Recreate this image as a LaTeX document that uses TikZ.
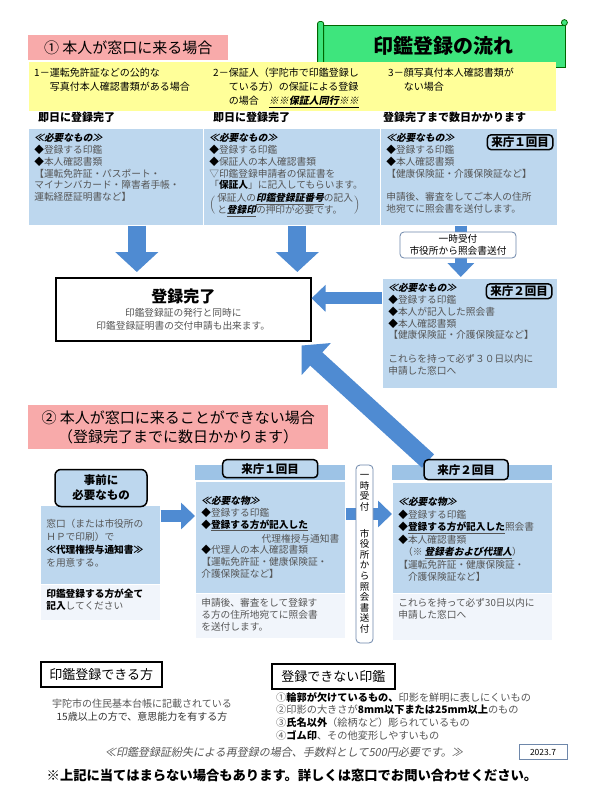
\documentclass[tikz,border=0pt]{standalone}
\usepackage{fontspec}
\setmainfont{Noto Sans CJK JP}
\newfontfamily\slnt{Noto Sans CJK JP}[FakeSlant=0.2]
\usepackage{tikz}
\usetikzlibrary{arrows.meta,positioning,calc}

\definecolor{pinkhd}{RGB}{248,170,170}
\definecolor{bandyellow}{RGB}{255,255,153}
\definecolor{boxblue}{RGB}{189,215,238}
\definecolor{stripblue}{RGB}{157,195,230}
\definecolor{paleblue}{RGB}{241,245,251}
\definecolor{titlegreen}{RGB}{62,229,125}
\definecolor{arrowblue}{RGB}{79,139,210}
\definecolor{txtgray}{RGB}{85,85,85}
\definecolor{noteline}{RGB}{110,135,170}

\newcommand{\txtcol}[3]{\parbox[t][#2][t]{#1}{#3}}
\newcommand{\dmd}{\textcolor{black}{◆}}
\newcommand{\needs}[1]{\textcolor{black}{\slnt\bfseries #1}}

\begin{document}
\begin{tikzpicture}[x=1pt,y=-1pt,font=\fontsize{9.7}{11.8}\selectfont,
  every node/.style={inner sep=0pt},
  hdr/.style={fill=pinkhd,anchor=north west,font=\fontsize{15}{19}\selectfont},
  blbox/.style={fill=boxblue,draw=white,line width=0.6pt,anchor=north west,inner xsep=6pt,inner ysep=5pt,text=txtgray},
  pale/.style={blbox,fill=paleblue},
  strip/.style={fill=stripblue,anchor=north west},
  badge/.style={draw=black,line width=1.5pt,rounded corners=4pt,fill=boxblue,font=\fontsize{11.5}{14}\selectfont\bfseries,inner xsep=4pt,inner ysep=2pt},
  tag/.style={draw=noteline,fill=white,rounded corners=4pt,line width=0.8pt},
  frame/.style={draw=black,line width=1.5pt,fill=white},
  flow/.style={arrowblue,line width=12pt,-{Triangle[width=26pt,length=14pt]}},
  bigflow/.style={arrowblue,line width=18pt,-{Triangle[width=42pt,length=20pt]}}]

\fill[white] (0,0) rectangle (592,800);
\useasboundingbox (0,0) rectangle (592,800);

\node[hdr,minimum width=200pt,minimum height=25pt] (h1) at (28,35) {① 本人が窓口に来る場合};
\node[draw=black!60!green,line width=0.8pt,fill=titlegreen,minimum width=244pt,minimum height=42pt,font=\fontsize{20}{24}\selectfont\bfseries] (ttl) at (443,46) {印鑑登録の流れ};
\draw[fill=titlegreen,draw=black!60!green,line width=0.8pt,rounded corners=2pt] ([xshift=-3pt,yshift=3pt]ttl.north west) rectangle ([xshift=3pt,yshift=-5pt]ttl.south west);
\draw[fill=titlegreen,draw=black!60!green,line width=0.8pt] ([xshift=-1pt,yshift=2pt]ttl.north east) circle (3pt);

\node[fill=bandyellow,anchor=north west,minimum width=527pt,minimum height=49pt] (band) at (29,62) {};
\node[anchor=north west,align=left,font=\fontsize{10}{14}\selectfont] (c1) at (34,68) {1－運転免許証などの公的な\\\phantom{1－}写真付本人確認書類がある場合};
\node[anchor=north west,align=left,font=\fontsize{10}{14}\selectfont] (c2) at (213,68) {2－保証人（宇陀市で印鑑登録し\\\phantom{2－}ている方）の保証による登録\\\phantom{2－}の場合　\underline{\slnt\bfseries ※※保証人同行※※}};
\node[anchor=north west,align=left,font=\fontsize{10}{14}\selectfont] (c3) at (388,68) {3－顔写真付本人確認書類が\\\phantom{3－}ない場合};

\node[anchor=north west,font=\fontsize{11}{13}\selectfont\bfseries] (s1) at (38,112) {即日に登録完了};
\node[anchor=north west,font=\fontsize{11}{13}\selectfont\bfseries] (s2) at (213,112) {即日に登録完了};
\node[anchor=north west,font=\fontsize{11}{13}\selectfont\bfseries] (s3) at (383,112) {登録完了まで数日かかります};

\node[blbox,minimum width=175pt] (b1) at (28,128) {\txtcol{163pt}{87pt}{\needs{≪必要なもの≫}\\\dmd 登録する印鑑\\\dmd 本人確認書類\\【運転免許証・パスポート・\\マイナンバカード・障害者手帳・\\運転経歴証明書など】}};
\node[blbox,minimum width=177pt] (b2) at (203,128) {\txtcol{165pt}{87pt}{\needs{≪必要なもの≫}\\\dmd 登録する印鑑\\\dmd 保証人の本人確認書類\\▽印鑑登録申請者の保証書を\\「\textcolor{black}{\bfseries 保証人}」に記入してもらいます。\\[1pt]\raisebox{-6pt}{\delimiterfactor=700 \delimitershortfall=12pt $\left(\hspace{2pt}\begin{tabular}{@{}l@{}}保証人の\underline{\textcolor{black}{\slnt\bfseries 印鑑登録証番号}}の記入\\と\underline{\textcolor{black}{\slnt\bfseries 登録印}}の押印が必要です。\end{tabular}\hspace{1pt}\right)$}}};
\node[blbox,minimum width=177pt] (b3) at (380,128) {\txtcol{165pt}{87pt}{\needs{≪必要なもの≫}\\\dmd 登録する印鑑\\\dmd 本人確認書類\\【健康保険証・介護保険証など】\\[11.8pt]申請後、審査をしてご本人の住所\\地宛てに照会書を送付します。}};
\node[blbox,minimum width=175pt] (b4) at (382,278) {\txtcol{163pt}{100pt}{\needs{≪必要なもの≫}\\\dmd 登録する印鑑\\\dmd 本人が記入した照会書\\\dmd 本人確認書類\\【健康保険証・介護保険証など】\\[11.8pt]これらを持って必ず３０日以内に\\申請した窓口へ}};
\node[frame,minimum width=255pt,minimum height=63pt,anchor=north west,align=center,font=\fontsize{9.7}{12.5}\selectfont,text=txtgray] (done) at (55,277) {{\fontsize{16}{20}\selectfont\bfseries\textcolor{black}{登録完了}}\\[2pt]印鑑登録証の発行と同時に\\印鑑登録証明書の交付申請も出来ます。};

\coordinate (p1) at ([xshift=21pt]b1.south);
\coordinate (p2) at ([xshift=5.5pt]b2.south);
\coordinate (p3) at ([xshift=-8pt]b3.south);
\coordinate (p4) at ([yshift=35pt]b4.west);
\draw[bigflow,shorten >=5pt] (p1) -- (p1 |- done.north);
\draw[bigflow,shorten >=5pt] (p2) -- (p2 |- done.north);
\draw[flow,shorten >=1pt] (p3) -- (p3 |- b4.north);
\draw[flow] (p4) -- (p4 -| done.east);

\node[tag,minimum width=116pt,minimum height=26pt,align=center] (n1) at (458,245) {一時受付\\市役所から照会書送付};
\node[badge,anchor=north east] (t1) at ([xshift=-4pt,yshift=-6pt]b3.north east) {来庁１回目};
\node[badge,anchor=north east] (t2) at ([xshift=-5pt,yshift=-5pt]b4.north east) {来庁２回目};

\node[hdr,minimum width=300pt,minimum height=44pt,align=center] (h2) at (28,405) {② 本人が窓口に来ることができない場合\\（登録完了までに数日かかります）};

\node[blbox,minimum width=120pt,font=\fontsize{9.7}{13}\selectfont] (b5) at (40,505) {\txtcol{108pt}{69pt}{\vspace*{9pt}窓口（または市役所の\\ＨＰで印刷）で\\\textcolor{black}{\bfseries ≪代理権授与通知書≫}\\を用意する。}};
\node[pale,minimum width=120pt,font=\fontsize{9.7}{12}\selectfont] (l5) at (40,584) {\txtcol{108pt}{26pt}{\textcolor{black}{\bfseries 印鑑登録する方が全て}\\\textcolor{black}{\bfseries 記入}してください}};
\node[strip,minimum width=150pt,minimum height=15pt] (hd6) at (195,465) {};
\node[blbox,minimum width=150pt] (b6) at (195,481) {\txtcol{138pt}{102pt}{\vspace*{10pt}\needs{≪必要な物≫}\\\dmd 登録する印鑑\\\dmd\underline{\textcolor{black}{\bfseries 登録する方が記入した}}\\[2pt]\hspace*{\fill}代理権授与通知書\\\dmd 代理人の本人確認書類\\【運転免許証・健康保険証・\\介護保険証など】}};
\node[pale,minimum width=150pt] (l6) at (195,593) {\txtcol{138pt}{35pt}{申請後、審査をして登録す\\る方の住所地宛てに照会書\\を送付します。}};
\node[strip,minimum width=160pt,minimum height=15pt] (hd7) at (392,465) {};
\node[blbox,minimum width=160pt,font=\fontsize{9.7}{12.5}\selectfont] (b7) at (392,482) {\txtcol{148pt}{101pt}{\vspace*{10pt}\needs{≪必要な物≫}\\\dmd 登録する印鑑\\\dmd\underline{\textcolor{black}{\bfseries 登録する方が記入した}}照会書\\\dmd 本人確認書類\\\hspace*{0.5em}（※ \underline{\textcolor{black}{\slnt\bfseries 登録者および代理人}}）\\【運転免許証・健康保険証・\\\hspace*{1em}介護保険証など】}};
\node[pale,minimum width=160pt] (l7) at (392,593) {\txtcol{148pt}{37pt}{これらを持って必ず30日以内に\\申請した窓口へ}};

\coordinate (p5) at ([yshift=-11pt]b5.north east);
\coordinate (p6) at ([yshift=-33pt]b6.north east);
\coordinate (p7) at ([xshift=36pt,yshift=4pt]hd7.north west);
\coordinate (p8) at ([xshift=-10pt,yshift=-4pt]done.south east);
\draw[flow] (p5) -- (p5 -| b6.west);
\draw[flow] (p6) -- (p6 -| b7.west);
\draw[bigflow] (p7) -- (p8);

\node[badge,minimum width=92pt,minimum height=37pt,align=center,rounded corners=6pt,font=\fontsize{11.5}{15}\selectfont\bfseries] (pre) at (101,488) {事前に\\必要なもの};
\node[badge,minimum width=95pt,minimum height=18pt] (t3) at ([yshift=4pt]hd6.center) {来庁１回目};
\node[badge,minimum width=84pt,minimum height=20pt] (t4) at ([xshift=-6pt,yshift=3pt]hd7.center) {来庁２回目};
\node[tag,minimum width=17pt,minimum height=178pt,text width=11pt,align=center,font=\fontsize{9.5}{10.6}\selectfont] (v1) at (364.5,554) {一\\時\\受\\付\\[16pt]市\\役\\所\\か\\ら\\照\\会\\書\\送\\付};

\node[frame,minimum width=121pt,minimum height=25pt,anchor=north west,font=\fontsize{13}{15}\selectfont] (can) at (40,661) {印鑑登録できる方};
\node[align=center,font=\fontsize{10}{13}\selectfont,text=txtgray] (canx) at (142,710) {宇陀市の住民基本台帳に記載されている\\\textcolor{black!80}{15歳以上の方で、意思能力を有する方}};
\node[frame,minimum width=123pt,minimum height=25pt,anchor=north west,font=\fontsize{13}{15}\selectfont] (cant) at (271,663) {登録できない印鑑};
\node[anchor=north west,align=left,font=\fontsize{10.2}{12.8}\selectfont,text=txtgray] (cantx) at (276,692) {①\textcolor{black}{\bfseries 輪郭が欠けているもの、}印影を鮮明に表しにくいもの\\②印影の大きさが\textcolor{black}{\bfseries 8mm以下または25mm以上}のもの\\③\textcolor{black}{\bfseries 氏名以外}（絵柄など）彫られているもの\\④\textcolor{black}{\bfseries ゴム印}、その他変形しやすいもの};

\node[font=\fontsize{11}{13}\selectfont\slnt,text=txtgray] (fee) at (284,752) {≪印鑑登録証紛失による再登録の場合、手数料として500円必要です。≫};
\node[draw=noteline,line width=0.6pt,minimum width=48pt,minimum height=15pt,font=\fontsize{8.5}{10}\selectfont] (yr) at (543,752) {2023.7};
\node[font=\fontsize{13.3}{16}\selectfont\bfseries] (warn) at (292,775) {※上記に当てはまらない場合もあります。詳しくは窓口でお問い合わせください。};
\end{tikzpicture}
\end{document}
